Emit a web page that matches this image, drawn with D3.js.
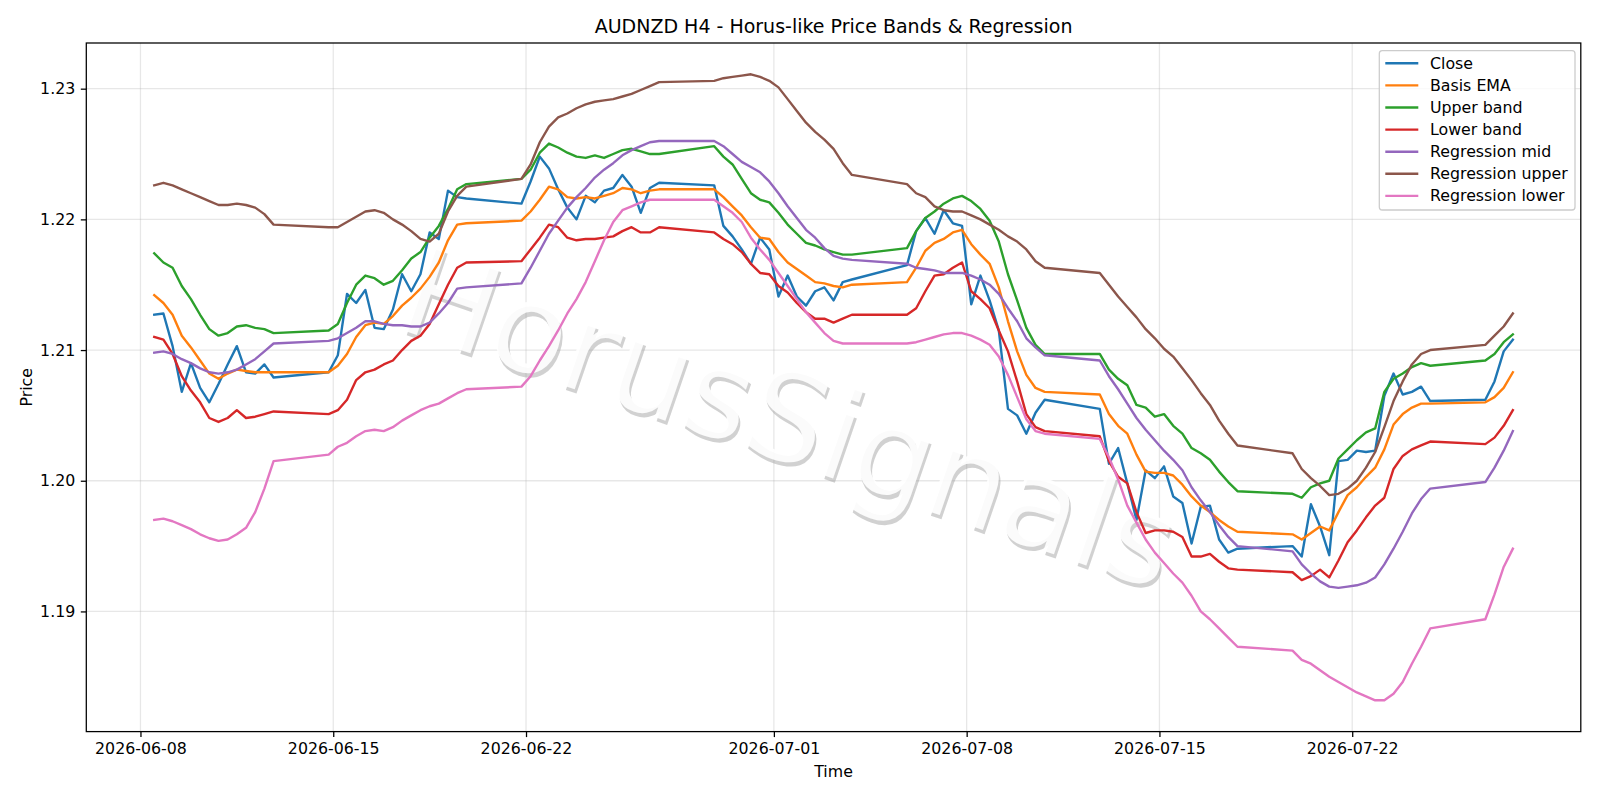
<!DOCTYPE html>
<html>
<head>
<meta charset="utf-8">
<script src="https://cdn.jsdelivr.net/npm/d3@7"></script>
<style>
  body { margin: 0; background: #fff; }
  text { font-family: "DejaVu Sans", sans-serif; }
</style>
</head>
<body>
<div id="chart"></div>
<script>
// H4 bars at 8h steps (04/12/20 UTC), weekends are gaps
let year = "2026";
let times = [
  "06-08 12","06-08 20","06-09 04","06-09 12","06-09 20","06-10 04","06-10 12","06-10 20",
  "06-11 04","06-11 12","06-11 20","06-12 04","06-12 12","06-12 20",
  "06-14 20","06-15 04","06-15 12","06-15 20","06-16 04","06-16 12","06-16 20","06-17 04","06-17 12","06-17 20",
  "06-18 04","06-18 12","06-18 20","06-19 04","06-19 12","06-19 20",
  "06-21 20","06-22 04","06-22 12","06-22 20","06-23 04","06-23 12","06-23 20","06-24 04","06-24 12","06-24 20",
  "06-25 04","06-25 12","06-25 20","06-26 04","06-26 12","06-26 20",
  "06-28 20","06-29 04","06-29 12","06-29 20","06-30 04","06-30 12","06-30 20","07-01 04","07-01 12","07-01 20",
  "07-02 04","07-02 12","07-02 20","07-03 04","07-03 12","07-03 20",
  "07-05 20","07-06 04","07-06 12","07-06 20","07-07 04","07-07 12","07-07 20","07-08 04","07-08 12","07-08 20",
  "07-09 04","07-09 12","07-09 20","07-10 04","07-10 12","07-10 20",
  "07-12 20","07-13 04","07-13 12","07-13 20","07-14 04","07-14 12","07-14 20","07-15 04","07-15 12","07-15 20",
  "07-16 04","07-16 12","07-16 20","07-17 04","07-17 12","07-17 20",
  "07-19 20","07-20 04","07-20 12","07-20 20","07-21 04","07-21 12","07-21 20","07-22 04","07-22 12","07-22 20",
  "07-23 04","07-23 12","07-23 20","07-24 04","07-24 12","07-24 20",
  "07-26 20","07-27 04","07-27 12","07-27 20"
];

let closePrice = [
  1.2127,1.2128,1.2103,1.2068,1.2090,1.2071,1.2060,1.2074,1.2089,1.2103,1.2083,1.2082,1.2089,1.2079,
  1.2083,1.2096,1.2143,1.2136,1.2146,1.2117,1.2116,1.2131,1.2158,1.2145,1.2158,1.2190,1.2185,1.2222,1.2217,1.2216,
  1.2212,1.2229,1.2248,1.2239,1.2223,1.2209,1.2200,1.2218,1.2213,1.2222,1.2224,1.2234,1.2225,1.2205,1.2224,1.2228,
  1.2226,1.2195,1.2187,1.2177,1.2166,1.2186,1.2177,1.2141,1.2157,1.2141,1.2134,1.2145,1.2148,1.2138,1.2152,1.2154,
  1.2165,1.2191,1.2201,1.2189,1.2207,1.2197,1.2195,1.2135,1.2157,1.2138,1.2115,1.2055,1.2050,1.2036,1.2052,1.2062,
  1.2055,1.2013,1.2025,1.1998,1.1970,1.2008,1.2002,1.2011,1.1988,1.1983,1.1952,1.1980,1.1981,1.1955,1.1945,1.1948,
  1.1950,1.1942,1.1982,1.1965,1.1943,1.2015,1.2016,1.2023,1.2022,1.2023,1.2065,1.2082,1.2066,1.2068,1.2072,1.2061,
  1.2062,1.2076,1.2099,1.2108
];
let basisEma = [
  1.2142,1.2136,1.2127,1.2111,1.2102,1.2092,1.2082,1.2078,1.2082,1.2085,1.2084,1.2083,1.2083,1.2083,
  1.2083,1.2088,1.2097,1.2110,1.2119,1.2121,1.2120,1.2126,1.2134,1.2140,1.2147,1.2156,1.2167,1.2184,1.2196,1.2197,
  1.2199,1.2206,1.2215,1.2225,1.2223,1.2217,1.2216,1.2217,1.2216,1.2218,1.2220,1.2224,1.2223,1.2220,1.2222,1.2223,
  1.2223,1.2217,1.2210,1.2203,1.2194,1.2186,1.2185,1.2175,1.2167,1.2162,1.2157,1.2152,1.2151,1.2149,1.2148,1.2150,
  1.2152,1.2163,1.2176,1.2182,1.2185,1.2190,1.2192,1.2181,1.2173,1.2166,1.2148,1.2122,1.2099,1.2081,1.2071,1.2068,
  1.2066,1.2051,1.2042,1.2036,1.2020,1.2007,1.2006,1.2006,1.2004,1.1997,1.1988,1.1981,1.1976,1.1970,1.1965,1.1961,
  1.1959,1.1955,1.1960,1.1965,1.1962,1.1976,1.1989,1.1995,1.2003,1.2010,1.2024,1.2043,1.2051,1.2056,1.2059,1.2059,
  1.2060,1.2064,1.2071,1.2083
];
let upperBand = [
  1.2174,1.2167,1.2163,1.2149,1.2139,1.2127,1.2116,1.2111,1.2113,1.2118,1.2119,1.2117,1.2116,1.2113,
  1.2115,1.2120,1.2136,1.2150,1.2157,1.2155,1.2150,1.2153,1.2161,1.2170,1.2175,1.2186,1.2195,1.2208,1.2223,1.2227,
  1.2231,1.2238,1.2251,1.2258,1.2255,1.2251,1.2248,1.2247,1.2249,1.2247,1.2250,1.2253,1.2254,1.2252,1.2250,1.2250,
  1.2256,1.2248,1.2242,1.2231,1.2220,1.2215,1.2213,1.2205,1.2196,1.2189,1.2182,1.2180,1.2177,1.2175,1.2173,1.2173,
  1.2178,1.2191,1.2201,1.2206,1.2212,1.2216,1.2218,1.2214,1.2208,1.2199,1.2183,1.2158,1.2138,1.2117,1.2104,1.2097,
  1.2097,1.2085,1.2078,1.2073,1.2058,1.2056,1.2049,1.2051,1.2042,1.2036,1.2025,1.2021,1.2016,1.2007,1.1999,1.1992,
  1.1990,1.1987,1.1995,1.1998,1.2000,1.2017,1.2024,1.2031,1.2037,1.2040,1.2068,1.2078,1.2082,1.2087,1.2090,1.2088,
  1.2092,1.2097,1.2106,1.2112
];
let lowerBand = [
  1.2110,1.2108,1.2097,1.2080,1.2069,1.2060,1.2048,1.2045,1.2048,1.2054,1.2048,1.2049,1.2051,1.2053,
  1.2051,1.2054,1.2062,1.2077,1.2083,1.2085,1.2089,1.2092,1.2100,1.2107,1.2111,1.2120,1.2135,1.2150,1.2163,1.2167,
  1.2168,1.2177,1.2186,1.2196,1.2194,1.2186,1.2184,1.2185,1.2185,1.2186,1.2187,1.2191,1.2194,1.2190,1.2190,1.2194,
  1.2190,1.2185,1.2181,1.2175,1.2166,1.2159,1.2158,1.2149,1.2144,1.2136,1.2129,1.2124,1.2124,1.2121,1.2124,1.2127,
  1.2127,1.2132,1.2145,1.2157,1.2158,1.2163,1.2167,1.2145,1.2139,1.2132,1.2115,1.2099,1.2076,1.2051,1.2041,1.2038,
  1.2034,1.2015,1.2003,1.1998,1.1976,1.1960,1.1962,1.1962,1.1961,1.1957,1.1942,1.1942,1.1944,1.1938,1.1933,1.1932,
  1.1930,1.1924,1.1927,1.1932,1.1926,1.1939,1.1953,1.1962,1.1972,1.1981,1.1987,1.2009,1.2019,1.2024,1.2027,1.2030,
  1.2028,1.2033,1.2042,1.2054
];
let regMid = [
  1.2098,1.2099,1.2097,1.2093,1.2090,1.2086,1.2083,1.2082,1.2083,1.2085,1.2089,1.2093,1.2099,1.2105,
  1.2107,1.2109,1.2113,1.2117,1.2122,1.2122,1.2120,1.2119,1.2119,1.2118,1.2118,1.2121,1.2128,1.2136,1.2147,1.2148,
  1.2151,1.2163,1.2176,1.2189,1.2199,1.2209,1.2217,1.2224,1.2232,1.2238,1.2243,1.2249,1.2253,1.2256,1.2259,1.2260,
  1.2260,1.2256,1.2250,1.2244,1.2240,1.2236,1.2229,1.2220,1.2210,1.2201,1.2192,1.2186,1.2178,1.2172,1.2170,1.2169,
  1.2166,1.2163,1.2162,1.2161,1.2159,1.2159,1.2159,1.2157,1.2154,1.2150,1.2143,1.2132,1.2122,1.2109,1.2102,1.2096,
  1.2092,1.2080,1.2070,1.2059,1.2048,1.2039,1.2031,1.2023,1.2016,1.2008,1.1995,1.1985,1.1976,1.1966,1.1957,1.1950,
  1.1946,1.1936,1.1929,1.1923,1.1919,1.1918,1.1919,1.1920,1.1922,1.1926,1.1936,1.1948,1.1961,1.1975,1.1986,1.1994,
  1.1999,1.2010,1.2023,1.2038
];
let regUpper = [
  1.2226,1.2228,1.2226,1.2223,1.2220,1.2217,1.2214,1.2211,1.2211,1.2212,1.2211,1.2209,1.2204,1.2196,
  1.2194,1.2194,1.2198,1.2202,1.2206,1.2207,1.2205,1.2200,1.2196,1.2191,1.2185,1.2183,1.2189,1.2206,1.2218,1.2225,
  1.2231,1.2242,1.2259,1.2271,1.2278,1.2281,1.2285,1.2288,1.2290,1.2291,1.2292,1.2294,1.2296,1.2299,1.2302,1.2305,
  1.2306,1.2308,1.2309,1.2310,1.2311,1.2309,1.2306,1.2301,1.2292,1.2283,1.2274,1.2267,1.2261,1.2254,1.2243,1.2234,
  1.2227,1.2220,1.2217,1.2210,1.2207,1.2206,1.2206,1.2203,1.2200,1.2196,1.2192,1.2187,1.2183,1.2177,1.2168,1.2163,
  1.2159,1.2150,1.2141,1.2133,1.2125,1.2116,1.2109,1.2101,1.2095,1.2086,1.2077,1.2067,1.2058,1.2046,1.2036,1.2027,
  1.2021,1.2009,1.2002,1.1996,1.1989,1.1990,1.1994,1.2000,1.2010,1.2022,1.2041,1.2061,1.2076,1.2089,1.2097,1.2100,
  1.2104,1.2111,1.2118,1.2128
];
let regLower = [
  1.1970,1.1971,1.1969,1.1966,1.1963,1.1959,1.1956,1.1954,1.1955,1.1959,1.1964,1.1976,1.1994,1.2015,
  1.2020,1.2026,1.2029,1.2034,1.2038,1.2039,1.2038,1.2041,1.2046,1.2050,1.2054,1.2057,1.2059,1.2063,1.2067,1.2070,
  1.2072,1.2080,1.2092,1.2103,1.2115,1.2128,1.2139,1.2152,1.2168,1.2184,1.2198,1.2207,1.2210,1.2213,1.2215,1.2215,
  1.2215,1.2210,1.2205,1.2198,1.2186,1.2177,1.2169,1.2159,1.2149,1.2139,1.2129,1.2121,1.2113,1.2107,1.2105,1.2105,
  1.2105,1.2106,1.2108,1.2110,1.2112,1.2113,1.2113,1.2111,1.2108,1.2104,1.2095,1.2081,1.2064,1.2047,1.2038,1.2036,
  1.2032,1.2018,1.2001,1.1981,1.1968,1.1955,1.1945,1.1937,1.1929,1.1922,1.1912,1.1900,1.1894,1.1887,1.1880,1.1873,
  1.1870,1.1863,1.1860,1.1855,1.1850,1.1846,1.1842,1.1838,1.1835,1.1832,1.1832,1.1837,1.1846,1.1860,1.1873,1.1887,
  1.1894,1.1913,1.1934,1.1948
];

let seriesNames = ["Close", "Basis EMA", "Upper band", "Lower band", "Regression mid", "Regression upper", "Regression lower"];
let seriesValues = [closePrice, basisEma, upperBand, lowerBand, regMid, regUpper, regLower];
let colors = ["#1f77b4", "#ff7f0e", "#2ca02c", "#d62728", "#9467bd", "#8c564b", "#e377c2"];

let xTickLabels = ["2026-06-08", "2026-06-15", "2026-06-22", "2026-07-01", "2026-07-08", "2026-07-15", "2026-07-22"];
let yTickValues = [1.19, 1.20, 1.21, 1.22, 1.23];

let width = 1600, height = 800;
let plot = {left: 86.3, right: 1580.8, top: 43, bottom: 731.6};
let fontSmall = "15.8px", fontTitle = "19px";

let parseTime = d3.utcParse("%Y-%m-%d %H");
let dates = times.map(t => parseTime(year + "-" + t));

let svg = d3.select("#chart").append("svg")
    .attr("width", width)
    .attr("height", height)
    .style("background", "#fff");

// matplotlib style 5% margins on both axes
let tExtent = d3.extent(dates);
let tPad = (tExtent[1] - tExtent[0]) * 0.05;
let x = d3.scaleUtc()
    .domain([new Date(+tExtent[0] - tPad), new Date(+tExtent[1] + tPad)])
    .range([plot.left, plot.right]);

let allVals = seriesValues.flat();
let vMin = d3.min(allVals), vMax = d3.max(allVals);
let vPad = (vMax - vMin) * 0.05;
let y = d3.scaleLinear()
    .domain([vMin - vPad, vMax + vPad])
    .range([plot.bottom, plot.top]);

let xTicks = xTickLabels.map(d => d3.utcParse("%Y-%m-%d")(d));

// grid
let grid = svg.append("g");
grid.selectAll(".vgrid")
    .data(xTicks)
    .enter().append("line")
    .attr("x1", d => x(d)).attr("x2", d => x(d))
    .attr("y1", plot.top).attr("y2", plot.bottom)
    .attr("stroke", "#b0b0b0").attr("stroke-opacity", 0.3).attr("stroke-width", 1.27);
grid.selectAll(".hgrid")
    .data(yTickValues)
    .enter().append("line")
    .attr("x1", plot.left).attr("x2", plot.right)
    .attr("y1", d => y(d)).attr("y2", d => y(d))
    .attr("stroke", "#b0b0b0").attr("stroke-opacity", 0.3).attr("stroke-width", 1.27);

// watermark
let wm = svg.append("g")
    .attr("transform", "translate(790,418) rotate(19)");
wm.append("text")
    .attr("x", 3).attr("y", 3.5)
    .attr("text-anchor", "middle")
    .attr("dominant-baseline", "central")
    .style("font-size", "124px")
    .style("fill", "#9a9a9a")
    .style("fill-opacity", 0.45)
    .text("HorusSignals");
wm.append("text")
    .attr("text-anchor", "middle")
    .attr("dominant-baseline", "central")
    .style("font-size", "124px")
    .style("fill", "#ffffff")
    .style("fill-opacity", 0.9)
    .text("HorusSignals");

// lines
let line = d3.line()
    .x((d, i) => x(dates[i]))
    .y(d => y(d));

svg.append("g")
    .selectAll("path")
    .data(seriesValues)
    .enter().append("path")
    .attr("d", d => line(d))
    .attr("fill", "none")
    .attr("stroke", (d, i) => colors[i])
    .attr("stroke-width", 2.38)
    .attr("stroke-linejoin", "round")
    .attr("stroke-linecap", "square");

// axes
let xAxis = d3.axisBottom(x)
    .tickValues(xTicks)
    .tickFormat(d3.utcFormat("%Y-%m-%d"))
    .tickSize(5.5).tickSizeOuter(0).tickPadding(5.5);
let yAxis = d3.axisLeft(y)
    .tickValues(yTickValues)
    .tickFormat(d3.format(".2f"))
    .tickSize(5.5).tickSizeOuter(0).tickPadding(5.5);

let gx = svg.append("g")
    .attr("transform", "translate(0," + plot.bottom + ")")
    .call(xAxis);
let gy = svg.append("g")
    .attr("transform", "translate(" + plot.left + ",0)")
    .call(yAxis);
[gx, gy].forEach(g => {
  g.select(".domain").remove();
  g.selectAll(".tick line").attr("stroke", "#000").attr("stroke-width", 1.27);
  g.selectAll(".tick text").attr("fill", "#000").style("font-size", fontSmall).style("font-family", "DejaVu Sans");
});

svg.append("rect")
    .attr("x", plot.left).attr("y", plot.top)
    .attr("width", plot.right - plot.left).attr("height", plot.bottom - plot.top)
    .attr("fill", "none").attr("stroke", "#000").attr("stroke-width", 1.27);

// titles
svg.append("text")
    .attr("x", (plot.left + plot.right) / 2).attr("y", 26.5)
    .attr("dy", "0.35em").attr("text-anchor", "middle")
    .style("font-size", fontTitle)
    .text("AUDNZD H4 - Horus-like Price Bands & Regression");
svg.append("text")
    .attr("x", (plot.left + plot.right) / 2).attr("y", 771)
    .attr("dy", "0.35em").attr("text-anchor", "middle")
    .style("font-size", fontSmall)
    .text("Time");
svg.append("text")
    .attr("transform", "translate(26.5," + (plot.top + plot.bottom) / 2 + ") rotate(-90)")
    .attr("dy", "0.35em").attr("text-anchor", "middle")
    .style("font-size", fontSmall)
    .text("Price");

// legend
let legend = svg.append("g").attr("transform", "translate(1379.3,50.7)");
legend.append("rect")
    .attr("width", 195.7).attr("height", 159.3).attr("rx", 3)
    .attr("fill", "#fff").attr("fill-opacity", 0.8)
    .attr("stroke", "#cccccc").attr("stroke-width", 1.27);
let rows = legend.selectAll(".row")
    .data(seriesNames)
    .enter().append("g")
    .attr("transform", (d, i) => "translate(0," + (12.6 + i * 22.1) + ")");
rows.append("line")
    .attr("x1", 6).attr("x2", 39)
    .attr("stroke", (d, i) => colors[i]).attr("stroke-width", 2.38);
rows.append("text")
    .attr("x", 50.7).attr("dy", "0.35em")
    .style("font-size", fontSmall)
    .text(d => d);
</script>
</body>
</html>
